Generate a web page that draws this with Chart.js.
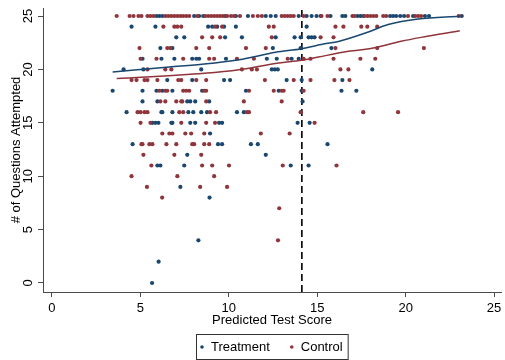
<!DOCTYPE html>
<html>
<head>
<meta charset="utf-8">
<title>Questions attempted by predicted score</title>
<script src="https://cdn.jsdelivr.net/npm/chart.js@4.4.0/dist/chart.umd.min.js"></script>
<style>
  html, body { margin: 0; padding: 0; background: #fff; }
</style>
</head>
<body>
<canvas id="scoreChart" width="505" height="360"></canvas>
<script>
// rows of the scatter: number of questions attempted, top to bottom
const attemptedLevels = [25, 24, 23, 22, 21, 20, 19, 18, 17, 16, 15, 14, 13, 12, 11, 10, 9, 8, 7, 6, 5, 4, 3, 2, 1, 0];

// predicted test scores of treatment students, one list per row above
const treatmentScores = [
  [5.91, 6.07, 6.24, 8.04, 8.32, 8.55, 9.79, 10.40, 11.08, 12.09, 12.37, 12.65, 13.95, 14.40, 14.68, 14.96, 15.19, 15.75, 16.42, 16.59, 17.27, 17.44, 17.60, 19.12, 19.29, 19.46, 19.69, 19.91, 20.42, 21.09, 21.32, 23.17],
  [4.50, 5.85, 8.83, 9.06, 9.34, 9.73, 10.40, 14.40],
  [7.03, 7.48, 9.79, 10.74, 12.65, 13.72, 14.06, 14.51, 14.68, 14.85],
  [6.13, 6.81, 12.49, 14.06, 15.80],
  [5.12, 6.19, 6.92, 7.93, 8.16, 8.32, 9.84, 12.15, 12.71, 13.55, 13.95],
  [4.05, 5.17, 8.44, 12.43, 12.60, 12.77, 18.11],
  [6.52, 7.93, 9.73, 10.07, 13.27, 14.12, 16.42],
  [3.43, 5.12, 5.91, 6.24, 6.81, 8.49, 10.97, 12.82, 14.12, 16.37, 17.21],
  [5.12, 5.96, 7.65, 7.82, 8.10, 8.89, 14.17],
  [4.22, 6.19, 6.24, 6.81, 7.71, 7.99, 8.44, 8.77, 10.46, 10.85],
  [5.68, 5.85, 6.02, 6.75, 6.81, 7.82, 8.10, 9.45, 9.62, 13.89, 14.57],
  [8.94],
  [4.56, 9.39, 9.62, 11.25, 11.64, 15.58],
  [7.65, 12.09],
  [5.96, 6.13, 7.48, 13.50, 14.51],
  [],
  [7.26],
  [8.91],
  [], [], [],
  [8.28],
  [],
  [6.03],
  [],
  [5.66]
];

// predicted test scores of control students, one list per row above
const controlScores = [
  [3.66, 4.39, 4.61, 4.89, 5.06, 5.40, 5.57, 5.74, 6.41, 6.58, 6.75, 6.92, 7.09, 7.26, 7.42, 7.59, 7.76, 8.21, 8.66, 8.83, 9.00, 9.17, 9.34, 9.51, 9.67, 9.90, 10.12, 10.29, 10.63, 11.36, 11.64, 11.87, 12.99, 13.16, 13.33, 13.50, 13.67, 14.23, 15.24, 15.58, 16.99, 17.10, 17.66, 17.83, 18.00, 18.17, 18.34, 18.73, 18.90, 20.13, 20.53, 20.70, 20.87, 23.00],
  [6.30, 6.92, 7.09, 7.31, 9.22, 9.62, 12.26, 12.54, 16.03, 16.48, 17.49, 17.83, 18.39],
  [8.49, 9.06, 9.51, 12.43, 15.19, 15.92],
  [4.95, 6.52, 6.69, 8.16, 8.89, 10.97, 12.09, 16.03, 18.39, 21.03],
  [5.01, 5.91, 7.42, 8.89, 9.17, 10.46, 11.42, 13.33, 14.23, 14.62, 15.92, 17.44, 18.28],
  [5.40, 6.41, 6.75, 10.74, 11.30, 11.59, 16.31, 16.76],
  [4.50, 4.78, 5.23, 5.40, 5.96, 7.14, 7.31, 8.16, 8.72, 12.04, 13.67, 14.62, 15.97, 16.82],
  [6.07, 6.41, 6.52, 7.42, 7.59, 7.76, 8.61, 8.72, 11.14, 12.54, 12.99, 13.10, 14.23],
  [6.13, 6.41, 7.03, 7.31, 7.37, 8.72, 10.85, 12.99],
  [4.84, 5.01, 5.23, 5.40, 7.20, 7.42, 8.94, 9.28, 11.02, 11.14, 14.06, 17.60, 19.57],
  [5.01, 5.57, 7.31, 8.72, 9.22, 14.85],
  [6.24, 6.64, 6.81, 7.54, 7.87, 8.61, 11.81, 13.44],
  [5.06, 5.12, 5.51, 5.68, 6.47, 7.03, 7.93, 8.04, 8.61, 8.89],
  [5.17, 6.92, 8.44],
  [5.62, 8.49, 9.06, 10.01, 13.05, 16.09],
  [4.50, 7.09, 9.17],
  [5.37, 8.38, 9.90],
  [6.23],
  [12.85],
  [], [],
  [12.78],
  [], [], [], []
];

// lowess fits
const treatmentFitScore = [3.43, 6.64, 8.61, 10.57, 12.65, 14.12, 15.35, 16.20, 17.89, 19.01, 20.70, 23.06];
const treatmentFitAttempted = [19.76, 20.22, 20.50, 20.91, 21.60, 21.94, 22.38, 22.62, 23.50, 24.20, 24.72, 24.97];
const controlFitScore = [3.66, 8.61, 10.57, 12.82, 14.12, 15.07, 16.76, 18.17, 19.74, 20.87, 23.06];
const controlFitAttempted = [19.14, 19.64, 19.97, 20.60, 20.85, 21.16, 21.69, 22.00, 22.63, 23.00, 23.62];

// eligibility cutoff on the predicted score
const cutoffScore = 14.13;

const xTicks = [0, 5, 10, 15, 20, 25];
const yTicks = [0, 5, 10, 15, 20, 25];
const xMin = -0.507, xMax = 25.39;
const yMin = -0.843, yMax = 25.75;

const navy = '#1a476f';
const maroon = '#90353b';
const axisColor = '#4a4a4a';
const fontFamily = "'Liberation Sans', Arial, Helvetica, sans-serif";

function toPoints(rows) {
  const pts = [];
  rows.forEach((scores, i) => {
    scores.forEach(s => pts.push({ x: s, y: attemptedLevels[i] }));
  });
  return pts;
}

function zip(xs, ys) {
  return xs.map((x, i) => ({ x: x, y: ys[i] }));
}

Chart.defaults.font.family = fontFamily;
Chart.defaults.color = '#000';

// boxed legend under the x axis title
const legendBox = {
  id: 'legendBox',
  afterDraw(chart) {
    const { ctx, chartArea } = chart;
    const items = chart.data.datasets.filter(d => d.inLegend);
    ctx.save();
    ctx.font = '13px ' + fontFamily;
    const widths = items.map(d => ctx.measureText(d.label).width);
    const padLeft = 6, dotToText = 9, itemGap = 22, padRight = 5;
    let total = padLeft + padRight;
    widths.forEach((w, i) => { total += dotToText + w + (i > 0 ? itemGap : 0); });
    const h = 25;
    const left = Math.round((chartArea.left + chartArea.right) / 2 - total / 2);
    const top = Math.round(chartArea.bottom + 42);
    ctx.strokeStyle = '#333';
    ctx.lineWidth = 1;
    ctx.strokeRect(left + 0.5, top + 0.5, total, h);
    let x = left + padLeft;
    const midY = top + h / 2 + 0.5;
    ctx.textBaseline = 'middle';
    ctx.textAlign = 'left';
    items.forEach((d, i) => {
      ctx.fillStyle = d.backgroundColor;
      ctx.beginPath();
      ctx.arc(x, midY, 1.8, 0, Math.PI * 2);
      ctx.fill();
      ctx.fillStyle = '#000';
      ctx.fillText(d.label, x + dotToText, midY);
      x += dotToText + widths[i] + itemGap;
    });
    ctx.restore();
  }
};

const axisGrid = {
  display: true,
  drawOnChartArea: false,
  drawTicks: true,
  tickLength: 5,
  color: axisColor,
  lineWidth: 1
};

new Chart(document.getElementById('scoreChart'), {
  type: 'scatter',
  data: {
    datasets: [
      {
        label: 'Treatment lowess',
        data: zip(treatmentFitScore, treatmentFitAttempted),
        showLine: true,
        borderColor: navy,
        borderWidth: 1.5,
        pointRadius: 0,
        cubicInterpolationMode: 'monotone',
        order: 0
      },
      {
        label: 'Control lowess',
        data: zip(controlFitScore, controlFitAttempted),
        showLine: true,
        borderColor: maroon,
        borderWidth: 1.5,
        pointRadius: 0,
        cubicInterpolationMode: 'monotone',
        order: 0
      },
      {
        label: 'Cutoff',
        data: [{ x: cutoffScore, y: yMin }, { x: cutoffScore, y: yMax }],
        showLine: true,
        borderColor: '#000',
        borderWidth: 1.6,
        borderDash: [7, 4],
        pointRadius: 0,
        order: 3
      },
      {
        label: 'Treatment',
        inLegend: true,
        data: toPoints(treatmentScores),
        backgroundColor: navy,
        borderWidth: 0,
        pointRadius: 2.1,
        order: 2
      },
      {
        label: 'Control',
        inLegend: true,
        data: toPoints(controlScores),
        backgroundColor: maroon,
        borderWidth: 0,
        pointRadius: 2.1,
        order: 1
      }
    ]
  },
  options: {
    responsive: false,
    animation: false,
    events: [],
    layout: { padding: { left: 0, top: 8, right: 2, bottom: 28 } },
    plugins: {
      legend: { display: false },
      tooltip: { enabled: false }
    },
    scales: {
      x: {
        type: 'linear',
        min: xMin,
        max: xMax,
        afterBuildTicks: s => { s.ticks = xTicks.map(v => ({ value: v })); },
        afterFit: s => { s.height = 40; s.paddingLeft = 0; s.paddingRight = 0; },
        grid: axisGrid,
        border: { display: true, color: axisColor, width: 1 },
        ticks: { padding: 4, font: { size: 13 }, color: '#000', maxRotation: 0 },
        title: {
          display: true,
          text: 'Predicted Test Score',
          font: { size: 13 },
          color: '#000',
          padding: { top: 0, bottom: 4 }
        }
      },
      y: {
        type: 'linear',
        min: yMin,
        max: yMax,
        afterBuildTicks: s => { s.ticks = yTicks.map(v => ({ value: v })); },
        afterFit: s => { s.width = 43; s.paddingTop = 0; s.paddingBottom = 0; },
        grid: axisGrid,
        border: { display: true, color: axisColor, width: 1 },
        ticks: { padding: 2, font: { size: 13 }, color: '#000', minRotation: 90, maxRotation: 90, crossAlign: 'center' },
        title: {
          display: true,
          text: '# of Questions Attempted',
          font: { size: 13 },
          color: '#000',
          padding: { top: 9, bottom: 0 }
        }
      }
    }
  },
  plugins: [legendBox]
});
</script>
</body>
</html>
